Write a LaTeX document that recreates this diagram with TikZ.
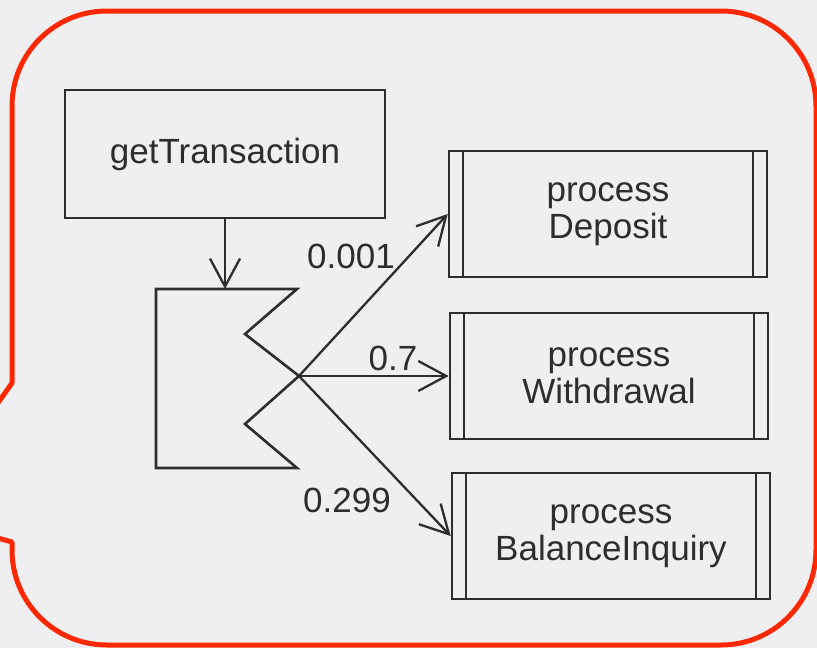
\documentclass[tikz,border=0pt]{standalone}
\usepackage{fontspec}
\setmainfont{Liberation Sans}
\usetikzlibrary{arrows.meta}
\definecolor{calloutred}{RGB}{255,40,0}
\definecolor{paper}{RGB}{239,239,242}
\definecolor{ink}{RGB}{45,45,45}
\begin{document}
\begin{tikzpicture}[x=1pt,y=-1pt,
  box/.style={draw=ink, line width=2.6pt, rectangle, inner sep=0pt,
    font=\fontsize{35}{37}\selectfont, text=ink, align=center},
  procbox/.style={box, minimum width=318pt, minimum height=126pt,
    path picture={\draw[ink, line width=2.6pt]
      ([xshift=14pt]path picture bounding box.north west) -- ([xshift=14pt]path picture bounding box.south west)
      ([xshift=-14pt]path picture bounding box.north east) -- ([xshift=-14pt]path picture bounding box.south east);}},
  arr/.style={draw=ink, line width=2.3pt, -{Straight Barb[length=28pt,width=30pt]}},
  shapeline/.style={draw=ink, line width=2.6pt, line join=miter},
  prob/.style={font=\fontsize{35}{37}\selectfont, text=ink, inner sep=0pt},
  callout/.style={draw=calloutred, line width=5pt, line join=round}
]
\useasboundingbox (0,0) rectangle (817,648);
\fill[paper] (0,0) rectangle (817,648);

% red callout border
\draw[callout] (-12,417) -- (12,383) -- (12,106)
  .. controls (12,53.5) and (54.5,11) .. (107,11) -- (721,11)
  .. controls (773.5,11) and (816,53.5) .. (816,106) -- (816,550)
  .. controls (816,602.5) and (773.5,645) .. (721,645) -- (107,645)
  .. controls (54.5,645) and (12,602.5) .. (12,550) -- (12,542) -- (-24,532);

% nodes
\node[box, minimum width=320pt, minimum height=128pt] (get) at (225,154) {getTransaction};
\node[procbox] (dep) at (608,214) {process\\Deposit};
\node[procbox] (wd) at (609,376) {process\\Withdrawal};
\node[procbox] (bal) at (611,536) {process\\BalanceInquiry};

% branch shape
\coordinate (btl) at (156,289);
\coordinate (btr) at (297,289);
\coordinate (bn1) at (245,334);
\coordinate (cross) at (299,376);
\coordinate (bn2) at (245,424);
\coordinate (bbr) at (297,468);
\coordinate (bbl) at (156,468);
\coordinate (branchtop) at (225,289);
\draw[shapeline] (btl) -- (btr) -- (bn1) -- (cross) -- (bn2) -- (bbr) -- (bbl) -- cycle;

% connectors
\draw[arr] (get.south) -- (branchtop);
\draw[arr] (cross) -- (dep.west);
\draw[arr] (cross) -- (wd.west);
\draw[arr] (cross) -- (bal.west);

% probabilities
\node[prob] (p1) at (351,256) {0.001};
\node[prob] (p2) at (393,358) {0.7};
\node[prob] (p3) at (347,500) {0.299};
\end{tikzpicture}
\end{document}
